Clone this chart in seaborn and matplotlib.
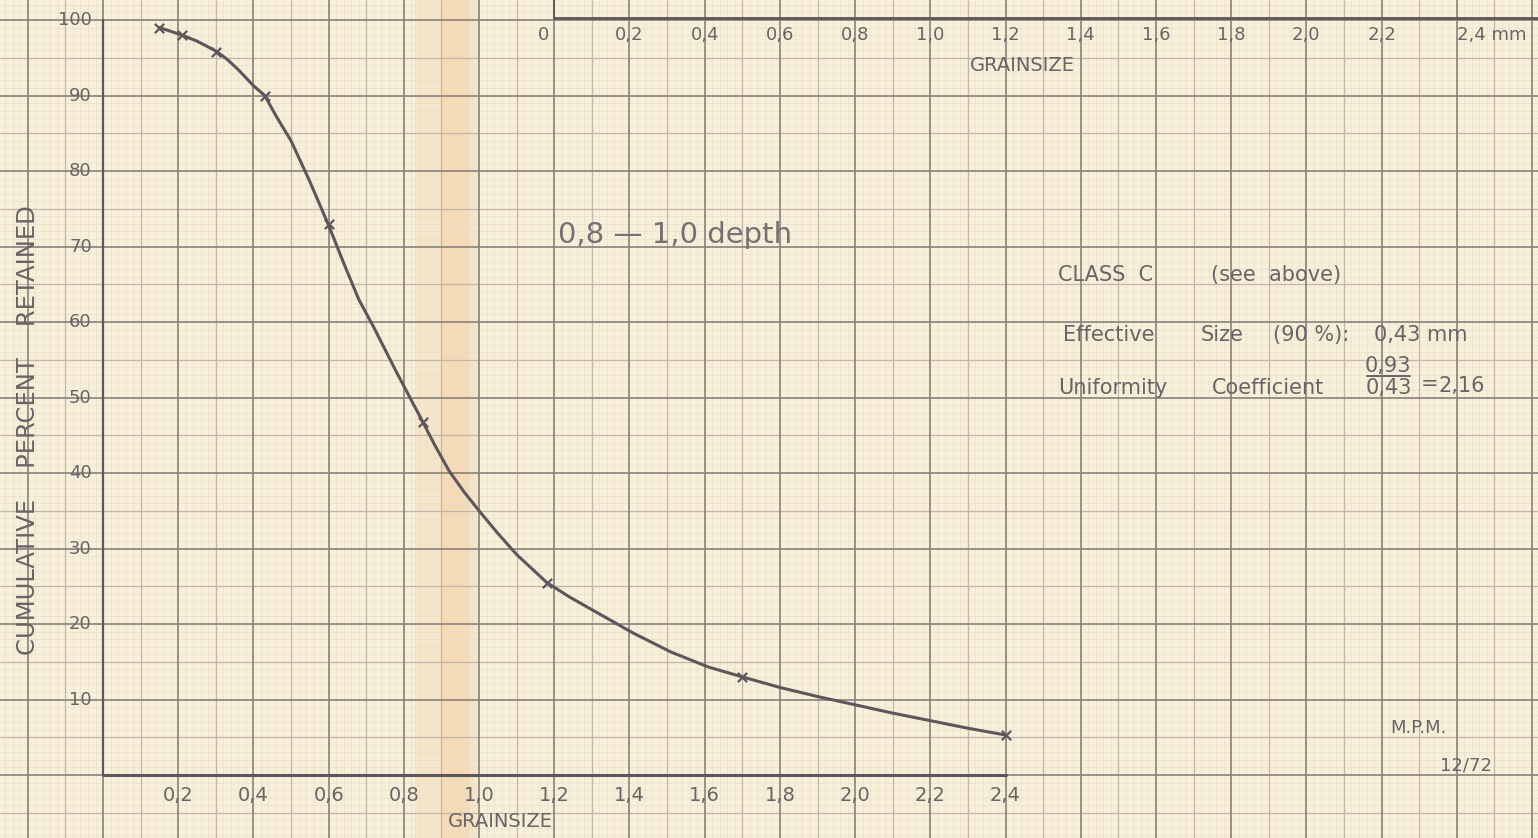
import numpy as np
import matplotlib
matplotlib.use("Agg")
import matplotlib.pyplot as plt
import seaborn as sns
import pandas as pd

# ---- data ----
# sieve points (x marks)
sieve_size = [0.15, 0.21, 0.30, 0.43, 0.60, 0.85, 1.18, 1.70, 2.40]
sieve_retained = [99.0, 98.0, 95.8, 90.0, 73.0, 46.8, 25.5, 13.0, 5.3]

# hand drawn curve, read along its path
curve_size = [0.15, 0.21, 0.25, 0.30, 0.33, 0.36, 0.40, 0.43, 0.46, 0.50,
              0.55, 0.60, 0.64, 0.68, 0.72, 0.78, 0.85, 0.88, 0.92, 0.96,
              1.00, 1.05, 1.10, 1.18, 1.24, 1.30, 1.41, 1.51, 1.61, 1.70,
              1.80, 1.90, 2.00, 2.10, 2.22, 2.30, 2.40]
curve_retained = [99.0, 98.0, 97.2, 95.9, 94.8, 93.4, 91.3, 90.0, 87.3, 84.0,
                  78.6, 72.8, 67.8, 63.0, 59.3, 53.4, 46.8, 43.9, 40.3, 37.5,
                  35.0, 32.0, 29.2, 25.5, 23.6, 21.9, 18.8, 16.3, 14.3, 13.0,
                  11.6, 10.4, 9.3, 8.2, 7.0, 6.2, 5.3]

bottom_ticks = [0.2, 0.4, 0.6, 0.8, 1.0, 1.2, 1.4, 1.6, 1.8, 2.0, 2.2, 2.4]
top_ticks = [0, 0.2, 0.4, 0.6, 0.8, 1.0, 1.2, 1.4, 1.6, 1.8, 2.0, 2.2, 2.4]
top_offset = 1.2          # the upper scale starts above 1,2 of the lower one
y_ticks = [10, 20, 30, 40, 50, 60, 70, 80, 90, 100]

df_curve = pd.DataFrame({"size": curve_size, "retained": curve_retained})
df_pts = pd.DataFrame({"size": sieve_size, "retained": sieve_retained})

# ---- style ----
sns.set_theme(style="white")
plt.rcParams["font.family"] = ["DejaVu Sans"]

paper = "#f8efdb"
ink = "#5d575b"
txt = "#6a6365"

fig = plt.figure(figsize=(15.38, 8.38), dpi=100)
fig.patch.set_facecolor(paper)
ax = fig.add_axes([0, 0, 1, 1])
ax.set_facecolor(paper)
ax.set_xlim(-0.274, 3.816)
ax.set_ylim(-8.34, 102.65)
for s in ax.spines.values():
    s.set_visible(False)
ax.set_xticks([])
ax.set_yticks([])

# stain / fold stripe
ax.axvspan(0.83, 1.0, color="#f3cfa0", alpha=0.30, lw=0)
ax.axvspan(0.90, 0.975, color="#f0c18d", alpha=0.30, lw=0)

# graph paper: 1 / 5 / 10 mm lines
xmin, xmax = ax.get_xlim()
ymin, ymax = ax.get_ylim()
ax.vlines(np.arange(-0.26, 3.82, 0.02), ymin, ymax, color="#ebdfc8", lw=0.5, zorder=1)
ax.hlines(np.arange(-8, 103, 1), xmin, xmax, color="#ebdfc8", lw=0.5, zorder=1)
ax.vlines(np.arange(-0.1, 3.82, 0.2), ymin, ymax, color="#c2b6a8", lw=0.9, zorder=2)
ax.hlines(np.arange(-5, 103, 10), xmin, xmax, color="#c2b6a8", lw=0.9, zorder=2)
ax.vlines(np.arange(-0.2, 3.82, 0.2), ymin, ymax, color="#8c817c", lw=1.2, zorder=3)
ax.hlines(np.arange(0, 103, 10), xmin, xmax, color="#8c817c", lw=1.2, zorder=3)

# axes drawn on the sheet
ax.plot([0, 2.4], [0, 0], color=ink, lw=2.2, zorder=4)
ax.plot([0, 0], [0, 100], color=ink, lw=1.6, zorder=4)
ax.plot([top_offset, xmax], [100.3, 100.3], color=ink, lw=2.0, zorder=4)
ax.plot([top_offset, top_offset], [100.3, ymax], color=ink, lw=1.4, zorder=4)

# curve and points
sns.lineplot(data=df_curve, x="size", y="retained", sort=False, color=ink,
             lw=2.2, ax=ax, zorder=5)
sns.scatterplot(data=df_pts, x="size", y="retained", marker="x", s=45,
                color=ink, linewidth=1.6, ax=ax, zorder=6)
ax.set_xlabel("")
ax.set_ylabel("")

# tick labels
def fmt(v):
    return ("%.1f" % v).replace(".", ",") if v != 0 else "0"

for v in bottom_ticks:
    ax.text(v, -2.7, fmt(v), ha="center", va="center", fontsize=14, color=txt)
for v in top_ticks:
    lab = fmt(v) + (" mm" if v == top_ticks[-1] else "")
    ax.text(top_offset + v - (0.03 if v == 0 else 0), 98.0, lab,
            ha="left" if v == top_ticks[-1] else "center",
            va="center", fontsize=13, color=txt)
for v in y_ticks:
    ax.text(-0.03, v, str(v), ha="right", va="center", fontsize=13, color=txt)

ax.text(1.056, -6.2, "GRAINSIZE", ha="center", va="center", fontsize=14, color=txt)
ax.text(2.445, 94.0, "GRAINSIZE", ha="center", va="center", fontsize=14, color=txt)
ax.text(-0.199, 45.7, "CUMULATIVE    PERCENT    RETAINED", rotation=90,
        ha="center", va="center", fontsize=17.5, color=txt)

# notes
ax.text(1.21, 71.5, "0,8 \u2014 1,0 depth", ha="left", va="center", fontsize=21,
        color="#777072")
ax.text(2.539, 66.2, "CLASS  C", ha="left", va="center", fontsize=15, color=txt)
ax.text(2.946, 66.2, "(see  above)", ha="left", va="center", fontsize=15, color=txt)
ax.text(2.552, 58.3, "Effective", ha="left", va="center", fontsize=15, color=txt)
ax.text(2.920, 58.3, "Size", ha="left", va="center", fontsize=15, color=txt)
ax.text(3.110, 58.3, "(90 %):", ha="left", va="center", fontsize=15, color=txt)
ax.text(3.380, 58.3, "0,43 mm", ha="left", va="center", fontsize=15, color=txt)
ax.text(2.540, 51.3, "Uniformity", ha="left", va="center", fontsize=15, color=txt)
ax.text(2.950, 51.3, "Coefficient", ha="left", va="center", fontsize=15, color=txt)
ax.text(3.418, 54.2, "0,93", ha="center", va="center", fontsize=15, color=txt)
ax.text(3.418, 51.3, "0,43", ha="center", va="center", fontsize=15, color=txt)
ax.plot([3.36, 3.475], [52.8, 52.8], color=txt, lw=1.4)
ax.text(3.528, 51.8, "=", ha="center", va="center", fontsize=15, color=txt)
ax.text(3.612, 51.5, "2,16", ha="center", va="center", fontsize=15, color=txt)
ax.text(3.499, 6.2, "M.P.M.", ha="center", va="center", fontsize=13, color=txt)
ax.text(3.624, 1.2, "12/72", ha="center", va="center", fontsize=13, color=txt)

fig.savefig("out.png", dpi=100, facecolor=paper)
